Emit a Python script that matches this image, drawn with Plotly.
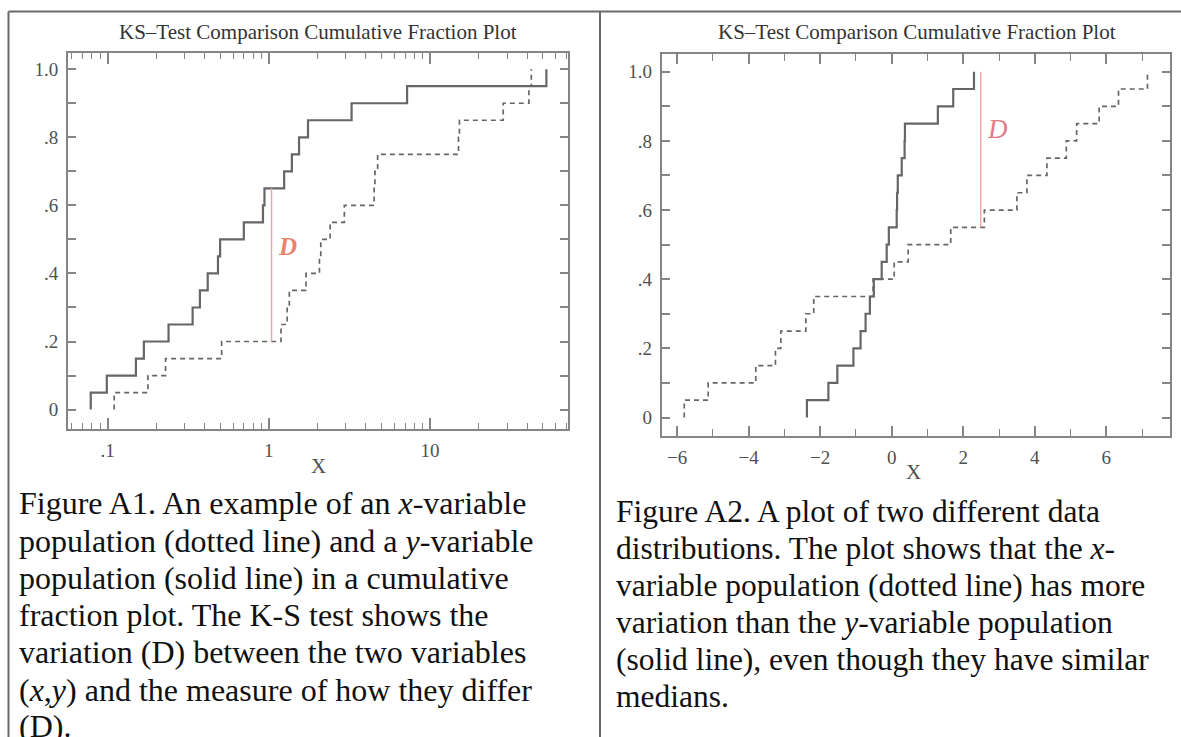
import plotly.graph_objects as go

# ---- Figure A1: samples plotted on a log x-axis ----
a1_y_sample = [0.0787, 0.099, 0.150, 0.168, 0.239, 0.337, 0.374, 0.418, 0.484, 0.499,
               0.700, 0.920, 0.940, 1.245, 1.39, 1.54, 1.75, 3.26, 7.2, 52.6]
a1_x_sample = [0.110, 0.178, 0.229, 0.510, 1.19, 1.30, 1.34, 1.70, 2.06, 2.10,
               2.40, 2.94, 4.50, 4.55, 4.73, 15.0, 15.2, 28.4, 41.0, 42.4]
a1_d_at = 1.04

# ---- Figure A2: samples plotted on a linear x-axis ----
a2_y_sample = [-2.37, -1.77, -1.52, -1.07, -0.87, -0.73, -0.61, -0.50, -0.28, -0.14,
               -0.08, 0.14, 0.15, 0.17, 0.28, 0.36, 0.37, 1.29, 1.72, 2.30]
a2_x_sample = [-5.80, -5.13, -3.80, -3.25, -3.10, -2.40, -2.18, -0.52, 0.07, 0.46,
               1.65, 2.59, 3.50, 3.78, 4.34, 4.88, 5.17, 5.80, 6.34, 7.15]
a2_d_at = 2.49

frac_ticks = [0, 0.2, 0.4, 0.6, 0.8, 1.0]
frac_labels = ["0", ".2", ".4", ".6", ".8", "1.0"]
frac_minor = [0.1, 0.3, 0.5, 0.7, 0.9]

log_ticks = [0.1, 1, 10]
log_labels = [".1", "1", "10"]
log_minor = [0.06, 0.07, 0.08, 0.09, 0.2, 0.3, 0.4, 0.5, 0.6, 0.7, 0.8, 0.9,
             2, 3, 4, 5, 6, 7, 8, 9, 20, 30, 40, 50, 60, 70]

lin_ticks = [-6, -4, -2, 0, 2, 4, 6]
lin_minor = [-5, -3, -1, 1, 3, 5, 7]

TITLE = "KS\u2013Test Comparison Cumulative Fraction Plot"
caption_a1 = [
    "Figure A1. An example of an <i>x</i>-variable",
    "population (dotted line) and a <i>y</i>-variable",
    "population (solid line) in a cumulative",
    "fraction plot. The K-S test shows the",
    "variation (D) between the two variables",
    "(<i>x</i>,<i>y</i>) and the measure of how they differ",
    "(D).",
]
caption_a2 = [
    "Figure A2. A plot of two different data",
    "distributions. The plot shows that the <i>x</i>-",
    "variable population (dotted line) has more",
    "variation than the <i>y</i>-variable population",
    "(solid line), even though they have similar",
    "medians.",
]

W, H = 1181, 737
SERIF = "Liberation Serif, Times New Roman, serif"
AXIS_GREY = "#858585"
LINE_GREY = "#666666"


def ecdf_steps(sample):
    s = sorted(sample)
    n = len(s)
    xs = [s[0]] + s
    ys = [0.0] + [(i + 1) / n for i in range(n)]
    return xs, ys


def ecdf_at(sample, x):
    return sum(1 for v in sample if v <= x) / len(sample)


def px_x(p):
    return p / W


def px_y(p):
    return 1 - p / H


fig = go.Figure()

panels = [
    dict(xa="x", ya="y", ys=a1_y_sample, xs=a1_x_sample, d=a1_d_at),
    dict(xa="x2", ya="y2", ys=a2_y_sample, xs=a2_x_sample, d=a2_d_at),
]

for p in panels:
    sx, sy = ecdf_steps(p["ys"])
    fig.add_trace(go.Scatter(x=sx, y=sy, mode="lines", line_shape="hv",
                             line=dict(color=LINE_GREY, width=2.2),
                             xaxis=p["xa"], yaxis=p["ya"], showlegend=False))
    dx, dy = ecdf_steps(p["xs"])
    fig.add_trace(go.Scatter(x=dx, y=dy, mode="lines", line_shape="hv",
                             line=dict(color=LINE_GREY, width=1.7, dash="5px,4px"),
                             xaxis=p["xa"], yaxis=p["ya"], showlegend=False))
    lo = ecdf_at(p["xs"], p["d"])
    hi = ecdf_at(p["ys"], p["d"])
    fig.add_trace(go.Scatter(x=[p["d"], p["d"]], y=[lo, hi], mode="lines",
                             line=dict(color="#f2a3a6", width=1.4),
                             xaxis=p["xa"], yaxis=p["ya"], showlegend=False))

common_axis = dict(showline=True, linecolor=AXIS_GREY, linewidth=2, mirror="allticks",
                   ticks="inside", tickcolor=AXIS_GREY, tickwidth=1.5,
                   showgrid=False, zeroline=False,
                   tickfont=dict(family=SERIF, size=19, color="#505050"))

fig.update_layout(
    width=W, height=H,
    margin=dict(l=0, r=0, t=0, b=0),
    paper_bgcolor="white", plot_bgcolor="white",
    xaxis=dict(common_axis, type="log", range=[-1.245, 1.855],
               domain=[px_x(68), px_x(568)], anchor="y",
               tickvals=log_ticks, ticktext=log_labels, ticklen=11,
               ticklabelstandoff=3,
               minor=dict(tickmode="array", tickvals=log_minor, ticks="inside",
                          ticklen=6, tickcolor=AXIS_GREY, tickwidth=1.2)),
    yaxis=dict(common_axis, range=[-0.057, 1.0476],
               domain=[px_y(429), px_y(53)], anchor="x",
               tickvals=frac_ticks, ticktext=frac_labels, ticklen=8,
               ticklabelstandoff=4,
               minor=dict(tickmode="array", tickvals=frac_minor, ticks="inside",
                          ticklen=8, tickcolor=AXIS_GREY, tickwidth=1.5)),
    xaxis2=dict(common_axis, range=[-6.43, 7.78],
                domain=[px_x(661.7), px_x(1170)], anchor="y2",
                tickvals=lin_ticks, ticklen=10, ticklabelstandoff=3,
                minor=dict(tickmode="array", tickvals=lin_minor, ticks="inside",
                           ticklen=7, tickcolor=AXIS_GREY, tickwidth=1.2)),
    yaxis2=dict(common_axis, range=[-0.0526, 1.0512],
                domain=[px_y(435.7), px_y(54)], anchor="x2",
                tickvals=frac_ticks, ticktext=frac_labels, ticklen=8,
                ticklabelstandoff=4,
                minor=dict(tickmode="array", tickvals=frac_minor, ticks="inside",
                           ticklen=8, tickcolor=AXIS_GREY, tickwidth=1.5)),
)

annotations = []
# chart titles and axis titles
for cx in (318, 917):
    annotations.append(dict(text=TITLE, x=px_x(cx), y=px_y(32), xref="paper", yref="paper",
                            xanchor="center", yanchor="middle", showarrow=False,
                            font=dict(family=SERIF, size=21, color="#333333")))
annotations.append(dict(text="X", x=px_x(318), y=px_y(466), xref="paper", yref="paper",
                        xanchor="center", yanchor="middle", showarrow=False,
                        font=dict(family=SERIF, size=21, color="#505050")))
annotations.append(dict(text="X", x=px_x(913), y=px_y(472), xref="paper", yref="paper",
                        xanchor="center", yanchor="middle", showarrow=False,
                        font=dict(family=SERIF, size=21, color="#505050")))
# "D" labels beside the vertical separation lines
annotations.append(dict(text="<b><i>D</i></b>", x=px_x(287), y=px_y(246),
                        xref="paper", yref="paper", xanchor="center", yanchor="middle",
                        showarrow=False, font=dict(family=SERIF, size=25, color="#e8836c")))
annotations.append(dict(text="<i>D</i>", x=px_x(997), y=px_y(129),
                        xref="paper", yref="paper", xanchor="center", yanchor="middle",
                        showarrow=False, font=dict(family=SERIF, size=27, color="#e27b88")))
# captions
for line, cy in zip(caption_a1, [503, 541, 578, 615, 652, 690, 726]):
    annotations.append(dict(text=line, x=px_x(17), y=px_y(cy), xref="paper", yref="paper",
                            xanchor="left", yanchor="middle", showarrow=False,
                            font=dict(family=SERIF, size=32, color="#111111")))
for line, cy in zip(caption_a2, [512, 548, 585, 622, 659, 696]):
    annotations.append(dict(text=line, x=px_x(614), y=px_y(cy), xref="paper", yref="paper",
                            xanchor="left", yanchor="middle", showarrow=False,
                            font=dict(family=SERIF, size=31.5, color="#111111")))
fig.update_layout(annotations=annotations)

# table rules framing the two figure cells
rule = dict(color="#6a6a6a", width=2)
fig.update_layout(shapes=[
    dict(type="line", xref="paper", yref="paper", x0=px_x(8.5), x1=1, y0=px_y(11.5), y1=px_y(11.5), line=rule),
    dict(type="line", xref="paper", yref="paper", x0=px_x(8.5), x1=px_x(8.5), y0=px_y(11.5), y1=0, line=rule),
    dict(type="line", xref="paper", yref="paper", x0=px_x(600), x1=px_x(600), y0=px_y(11.5), y1=0, line=rule),
])

fig.write_html("out.html")
